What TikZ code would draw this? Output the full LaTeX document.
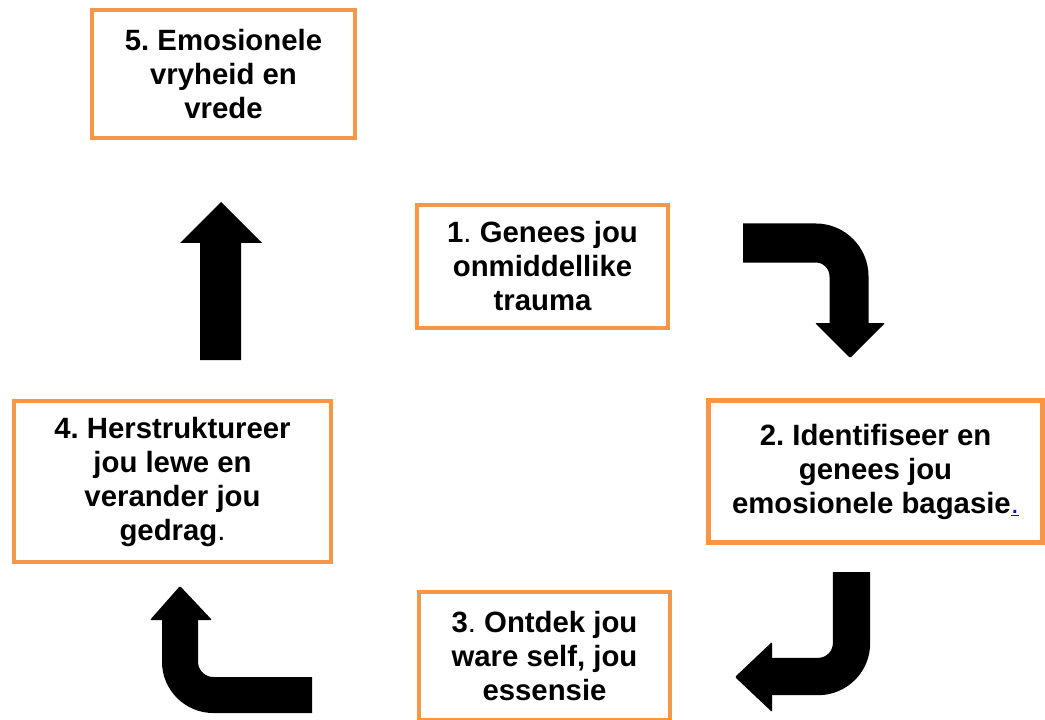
\documentclass[tikz,border=0pt]{standalone}
\usepackage{fontspec}
\setmainfont{Liberation Sans}
\definecolor{boxorange}{HTML}{F79646}
\definecolor{linkblue}{HTML}{0000FF}
\frenchspacing
\begin{document}
\begin{tikzpicture}[x=0.75pt,y=-0.75pt,
  box/.style={draw=boxorange, line width=3pt, fill=white, align=center,
    font=\fontsize{22}{25.5}\selectfont\bfseries\frenchspacing, inner sep=0pt},
  shaft/.style={draw=black, line width=#1, rounded corners=25pt},
  head/.style={fill=black, rounded corners=0.8pt},
]
\useasboundingbox (0,0) rectangle (1045,720);
\clip (0,0) rectangle (1045,720);

% boxes
\node[box, minimum width=197.25pt, minimum height=96pt] (b5) at (223.5,74)
  {5. Emosionele\\vryheid en\\vrede};
\node[box, minimum width=188.25pt, minimum height=92.25pt] (b1) at (542.5,266.5)
  {1{\mdseries.} Genees jou\\onmiddellike\\trauma};
\node[box, line width=3.75pt, minimum width=250.5pt, minimum height=106.5pt] (b2) at (875.5,471.5)
  {2. Identifiseer en\\genees jou\\emosionele bagasie\textcolor{linkblue}{\mdseries\underline{.}}};
\node[box, minimum width=188.25pt, minimum height=96pt] (b3) at (544.5,656)
  {3{\mdseries.} Ontdek jou\\ware self, jou\\essensie};
\node[box, minimum width=237.75pt, minimum height=120.75pt] (b4) at (172.5,481.5)
  {4. Herstruktureer\\jou lewe en\\verander jou\\gedrag{\mdseries.}};

% arrow 4 -> 5 (straight up)
\fill[black] (200,360) -- (200,243) -- (180,243) -- (221,202) -- (262,243)
  -- (241,243) -- (241,360) -- cycle;

% arrow 1 -> 2
\coordinate (a1s) at (743,243);
\coordinate (a1c) at (849,243);
\coordinate (a1e) at (849,324);
\draw[shaft=29.25pt] (a1s) -- (a1c) -- (a1e);
\fill[head] (815,323) -- (885,323) -- (850,358) -- cycle;

% arrow 2 -> 3
\coordinate (a2s) at (851.5,572);
\coordinate (a2c) at (851.5,676.5);
\coordinate (a2e) at (771,676.5);
\draw[shaft=28pt] (a2s) -- (a2c) -- (a2e);
\fill[head] (772,642) -- (772,712) -- (735,677) -- cycle;

% arrow 3 -> 4
\coordinate (a3s) at (312,695);
\coordinate (a3c) at (180,695);
\coordinate (a3e) at (180,619);
\draw[shaft=27pt] (a3s) -- (a3c) -- (a3e);
\fill[head] (150,620) -- (212,620) -- (180,586) -- cycle;
\end{tikzpicture}
\end{document}
